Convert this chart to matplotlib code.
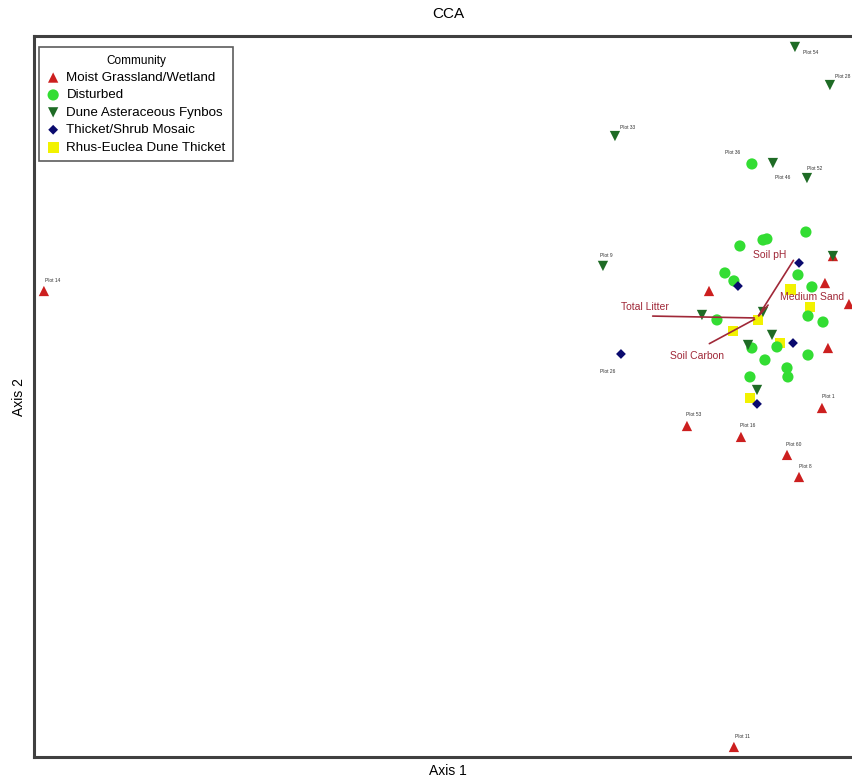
import matplotlib
matplotlib.use("Agg")
import matplotlib.pyplot as plt

plt.rcParams["font.family"] = ["Liberation Sans", "DejaVu Sans"]

# site scores (axis 1, axis 2) per community
moist_x = [-4.507, -0.073, 0.70, 0.86, 0.72, 0.68, -0.22, 0.14, 0.447, 0.527, 0.093, 0.753]
moist_y = [0.26, 0.26, 0.313, 0.173, -0.12, -0.52, -0.64, -0.713, -0.833, -0.98, -2.78, 0.493]

dist_x = [0.213, 0.133, 0.313, 0.287, 0.573, 0.033, 0.093, 0.52, 0.613, 0.587, 0.687,
          -0.02, 0.38, 0.213, 0.30, 0.587, 0.447, 0.453, 0.20]
dist_y = [1.107, 0.56, 0.607, 0.60, 0.653, 0.38, 0.327, 0.367, 0.287, 0.093, 0.053,
          0.067, -0.113, -0.12, -0.20, -0.167, -0.253, -0.313, -0.313]

fyn_x = [0.50, 0.733, -0.70, 0.353, 0.58, -0.78, -0.12, 0.287, 0.347, 0.187, 0.247, 0.753]
fyn_y = [1.887, 1.633, 1.293, 1.113, 1.013, 0.427, 0.10, 0.12, -0.033, -0.10, -0.40, 0.493]

thick_x = [-0.66, 0.12, 0.527, 0.487, 0.247]
thick_y = [-0.16, 0.293, 0.447, -0.087, -0.493]

rhus_x = [0.087, 0.253, 0.60, 0.40, 0.20, 0.47]
rhus_y = [-0.007, 0.067, 0.153, -0.087, -0.453, 0.27]

# labelled plots: name, x, y
plot_names = ["Plot 54", "Plot 28", "Plot 33", "Plot 36", "Plot 46", "Plot 52", "Plot 9",
              "Plot 26", "Plot 53", "Plot 16", "Plot 60", "Plot 8", "Plot 1", "Plot 14", "Plot 11"]
plot_x = [0.50, 0.733, -0.70, 0.213, 0.353, 0.58, -0.78, -0.66, -0.22, 0.14, 0.447, 0.527, 0.68, -4.507, 0.093]
plot_y = [1.887, 1.633, 1.293, 1.107, 1.113, 1.013, 0.427, -0.16, -0.64, -0.713, -0.833, -0.98, -0.52, 0.26, -2.78]
plot_off = [(8, -6), (5, 9), (5, 9), (-12, 11), (2, -14), (0, 10), (-3, 10),
            (-21, -18), (-1, 11), (-1, 11), (-1, 10), (0, 10), (0, 11), (1, 10), (1, 10)]

# environmental vectors
env_names = ["Total Litter", "Soil Carbon", "Soil pH", "Medium Sand"]
env_x = [-0.467, -0.087, 0.50, 0.333]
env_y = [0.093, -0.10, 0.48, 0.18]
env_lab_x = [-0.50, -0.153, 0.333, 0.613]
env_lab_y = [0.153, -0.173, 0.50, 0.22]
origin = (0.247, 0.08)

fig = plt.figure(figsize=(8.52, 7.83), dpi=100)
ax = fig.add_axes([34 / 852, 1 - 757 / 783, (862 - 34) / 852, (757 - 36) / 783])

ax.scatter(rhus_x, rhus_y, marker="s", s=60, color="#F2F200", edgecolors="none", zorder=3,
           label="Rhus-Euclea Dune Thicket")
ax.scatter(moist_x, moist_y, marker="^", s=55, color="#CC1F1F", edgecolors="none", zorder=4,
           label="Moist Grassland/Wetland")
ax.scatter(dist_x, dist_y, marker="o", s=65, color="#33DD33", edgecolors="none", zorder=4,
           label="Disturbed")
ax.scatter(fyn_x, fyn_y, marker="v", s=55, color="#1E6B25", edgecolors="none", zorder=4,
           label="Dune Asteraceous Fynbos")
ax.scatter(thick_x, thick_y, marker="D", s=25, color="#0A0A6E", edgecolors="none", zorder=5,
           label="Thicket/Shrub Mosaic")

for name, x, y, off in zip(plot_names, plot_x, plot_y, plot_off):
    ha = "right" if off[0] < -10 and off[1] > 0 else "left"
    ax.annotate(name, (x, y), xytext=off, textcoords="offset pixels",
                fontsize=3.5, color="#333333", ha=ha, va="center")

for name, ex, ey, lx, ly in zip(env_names, env_x, env_y, env_lab_x, env_lab_y):
    ax.annotate("", xy=(ex, ey), xytext=origin,
                arrowprops=dict(arrowstyle="-", color="#A02838", lw=1.2), zorder=6)
    ax.text(lx, ly, name, fontsize=7.5, color="#A02838", ha="center", va="center", zorder=7)

ax.set_xlim(-4.573, 0.947)
ax.set_ylim(-2.847, 1.96)
ax.set_xticks([])
ax.set_yticks([])
for sp in ax.spines.values():
    sp.set_linewidth(2.2)
    sp.set_color("#404040")

ax.set_xlabel("Axis 1", fontsize=10, labelpad=5)
ax.set_ylabel("Axis 2", fontsize=10, labelpad=6)
ax.set_title("CCA", fontsize=11, pad=13)

handles, labels = ax.get_legend_handles_labels()
order = [1, 2, 3, 4, 0]
leg = ax.legend([handles[i] for i in order], [labels[i] for i in order], title="Community",
                loc="upper left", bbox_to_anchor=(0.003, 0.988), fontsize=9.6,
                title_fontsize=8.5, frameon=True, fancybox=False, edgecolor="#333333",
                handletextpad=0.5, labelspacing=0.38, borderpad=0.55, handlelength=1.0,
                borderaxespad=0.2)
leg.get_frame().set_linewidth(1.2)

fig.savefig("out.png", dpi=100)
